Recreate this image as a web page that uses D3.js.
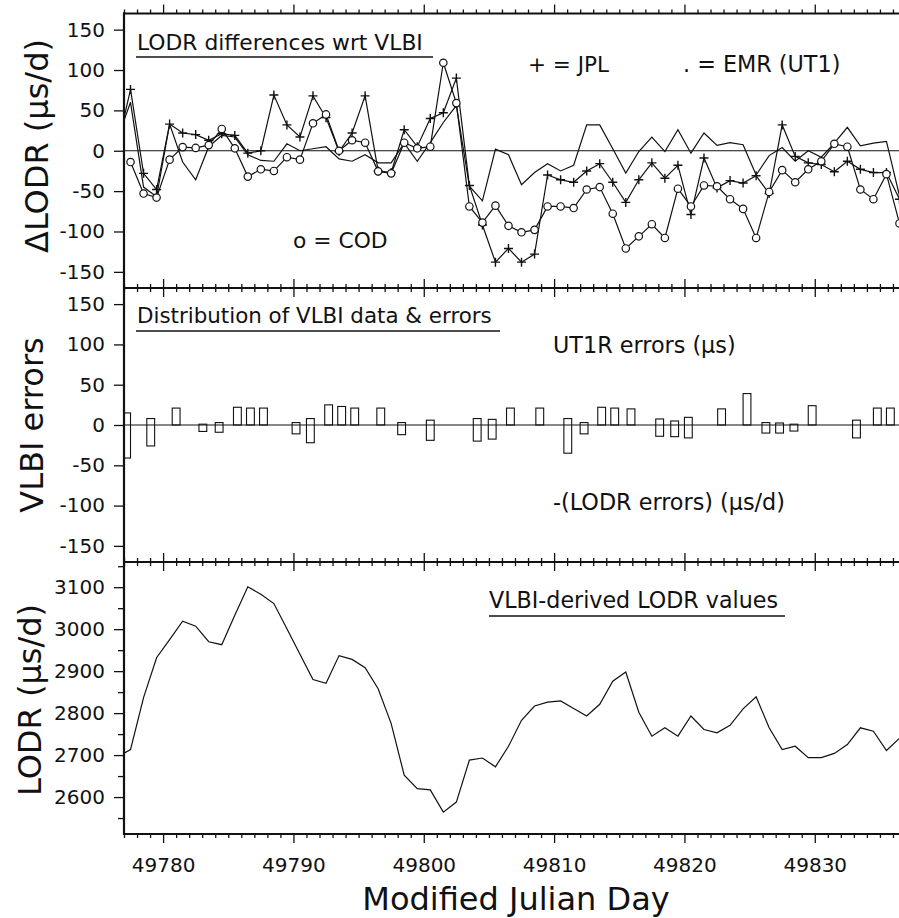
<!DOCTYPE html>
<html><head><meta charset="utf-8">
<script src="https://cdn.jsdelivr.net/npm/d3@7"></script>
<style>
body{margin:0;background:#fff;}
svg{display:block;}
text{font-family:"DejaVu Sans",sans-serif;fill:#111;}
</style></head><body>
<svg id="c" width="899" height="918"></svg>
<script>
// ---------- data ----------
const days = [49776.5,49777.5,49778.5,49779.5,49780.5,49781.5,49782.5,49783.5,49784.5,49785.5,
  49786.5,49787.5,49788.5,49789.5,49790.5,49791.5,49792.5,49793.5,49794.5,49795.5,
  49796.5,49797.5,49798.5,49799.5,49800.5,49801.5,49802.5,49803.5,49804.5,49805.5,
  49806.5,49807.5,49808.5,49809.5,49810.5,49811.5,49812.5,49813.5,49814.5,49815.5,
  49816.5,49817.5,49818.5,49819.5,49820.5,49821.5,49822.5,49823.5,49824.5,49825.5,
  49826.5,49827.5,49828.5,49829.5,49830.5,49831.5,49832.5,49833.5,49834.5,49835.5,49836.5];
// JPL LODR differences wrt VLBI (+ markers)
const jpl = [5,76,-28,-48,33,22,20,13,21,19,
  -3,0,69,32,17,68,41,-1,22,68,
  -25,-27,26,5,40,47,90,-43,-92,-138,
  -121,-138,-128,-30,-36,-39,-25,-16,-39,-64,
  -36,-15,-34,-18,-79,-9,-46,-37,-40,-31,
  -53,32,-7,-15,-17,-26,-13,-23,-27,-27,-60];
// COD differences (o markers)
const cod = [null,-14,-53,-58,-11,4.5,3.5,7,27,3,
  -32,-23,-25,-8,-11,34,45,0,13,10,
  -25.5,-28,10,3,5,109,59,-69,-89,-68,
  -93,-101,-98,-69,-69,-71,-48,-45,-78,-121,
  -106,-91,-108,-47,-69,-43,-44,-60,-72,-108,
  -51,-24,-39,-23,-13,8.6,5,-48,-60,-29,-90];
// EMR (UT1) differences (plain line)
const emr = [15,60,-45,-57,33,-14,-36,5,19,17,
  -5,-12,-13,8.6,0,2.5,5,-10,-13,-5,
  -15,-15,9.5,-13,10,35,56,-44,-62,2,
  -5,-42,-27,-16,-25,-18,32,32,2.5,-27.5,
  -1,17,-1,26,-3,22,6.6,10,7.4,-30,
  -6,4,-13,0,-8,9.5,29,6,9.5,11.5,-56];
// VLBI-derived LODR values (µs/d)
const lodr = [2696,2713,2837,2932,2975,3019,3007,2970,2963,3033,
  3101,3083,3061,3001,2940,2880,2871,2937,2928,2908,
  2858,2775,2652,2620,2617,2564,2588,2688,2693,2672,
  2721,2783,2817,2826,2829,2811,2793,2821,2876,2898,
  2802,2745,2765,2745,2793,2761,2753,2771,2810,2839,
  2765,2713,2721,2694,2694,2704,2725,2765,2757,2711,2740];
// VLBI sessions: UT1R errors (µs, up) and LODR errors (µs/d, drawn negative)
const barDays = [49777.2,49779.05,49781.0,49783.05,49784.3,49785.7,49786.7,49787.7,49790.2,49791.3,
  49792.7,49793.7,49794.7,49796.7,49798.3,49800.5,49804.1,49805.25,49806.65,49808.9,
  49811.05,49812.3,49813.65,49814.65,49815.9,49818.1,49819.25,49820.3,49822.85,49824.8,
  49826.25,49827.3,49828.4,49829.8,49833.2,49834.8,49835.8];
const ut1rErr = [15,8,21,1,3,22,21,21,3,8,
  25,23,21,21,3,6,8,7,21,21,
  8,3,22,21,20,7.5,5,9.5,20,39,
  3,2.5,1,24,6,21,21];
const lodrErr = [41,26,0,8,9,0,0,0,11,22,
  0,0,0,0,12,19,20,17.5,0,0,
  35,11,0,0,0,14,14.5,16,0,0,
  10,10,7.5,0,16,0,0];
// ticks
const xMajorTicks = [49780,49790,49800,49810,49820,49830];
const xMinorTicks = [49777,49778,49779,49781,49782,49783,49784,49785,49786,49787,49788,49789,
  49791,49792,49793,49794,49795,49796,49797,49798,49799,49801,49802,49803,49804,49805,49806,
  49807,49808,49809,49811,49812,49813,49814,49815,49816,49817,49818,49819,49821,49822,49823,
  49824,49825,49826,49827,49828,49829,49831,49832,49833,49834,49835,49836];
const diffTicks = [-150,-100,-50,0,50,100,150];
const lodrTicks = [2600,2700,2800,2900,3000,3100];
const lodrMinorTicks = [2550,2650,2750,2850,2950,3050,3150];

// ---------- layout ----------
const svg = d3.select("#c");
const L = 124, R = 906;
const P1 = [13.5, 288], P2 = [288, 562], P3 = [562, 834];
const x = d3.scaleLinear().domain([49777, 49837]).range([L, R]);
const y1 = d3.scaleLinear().domain([-170, 170]).range([P1[1], P1[0]]);
const y2 = d3.scaleLinear().domain([-170, 170]).range([P2[1], P2[0]]);
const y3 = d3.scaleLinear().domain([2512, 3160]).range([P3[1], P3[0]]);
const ink = "#111";
const fmt = d => String(d);   // plain hyphen-minus like the original

const defs = svg.append("defs");
[P1, P2, P3].forEach((p, i) => {
  defs.append("clipPath").attr("id", "clip" + i).append("rect")
    .attr("x", L).attr("y", p[0]).attr("width", R - L).attr("height", p[1] - p[0]);
});

// ---------- x ticks on every panel border ----------
function xTicks(yPos, dir, withLabels) {
  const ax = (dir < 0 ? d3.axisTop(x) : d3.axisBottom(x));
  const gMaj = svg.append("g").attr("transform", `translate(0,${yPos})`)
    .call(ax.tickValues(xMajorTicks).tickSize(9).tickPadding(15)
      .tickFormat(withLabels ? fmt : () => ""));
  const ax2 = (dir < 0 ? d3.axisTop(x) : d3.axisBottom(x));
  const gMin = svg.append("g").attr("transform", `translate(0,${yPos})`)
    .call(ax2.tickValues(xMinorTicks).tickSize(4).tickFormat(() => ""));
  [gMaj, gMin].forEach(g => {
    g.select(".domain").remove();
    g.selectAll("line").attr("stroke", ink).attr("stroke-width", 1.3);
  });
  gMaj.selectAll("text").attr("font-size", 20).attr("fill", ink)
    .attr("font-family", "DejaVu Sans");
}
xTicks(P1[0], -1, false);
xTicks(P1[1], 1, false);
xTicks(P2[0], -1, false);
xTicks(P2[1], 1, false);
xTicks(P3[0], -1, false);
xTicks(P3[1], 1, true);

// ---------- y axes ----------
function yAxis(scale, ticks, minor) {
  const g = svg.append("g").attr("transform", `translate(${L},0)`)
    .call(d3.axisLeft(scale).tickValues(ticks).tickSize(10).tickPadding(9).tickFormat(fmt));
  g.select(".domain").remove();
  g.selectAll("line").attr("stroke", ink).attr("stroke-width", 1.3);
  g.selectAll("text").attr("font-size", 20).attr("fill", ink).attr("font-family", "DejaVu Sans");
  if (minor) {
    const gm = svg.append("g").attr("transform", `translate(${L},0)`)
      .call(d3.axisLeft(scale).tickValues(minor).tickSize(6).tickFormat(() => ""));
    gm.select(".domain").remove();
    gm.selectAll("line").attr("stroke", ink).attr("stroke-width", 1.3);
  }
}
yAxis(y1, diffTicks);
yAxis(y2, diffTicks);
yAxis(y3, lodrTicks, lodrMinorTicks);

// ---------- frame ----------
const frame = svg.append("g").attr("stroke", ink).attr("stroke-width", 2.2);
[P1[0], P1[1], P2[1], P3[1]].forEach(yy => {
  frame.append("line").attr("x1", L - 1).attr("x2", R).attr("y1", yy).attr("y2", yy);
});
frame.append("line").attr("x1", L).attr("x2", L).attr("y1", P1[0] - 1).attr("y2", P3[1] + 1);

// ---------- panel 1: LODR differences ----------
const p1 = svg.append("g").attr("clip-path", "url(#clip0)");
p1.append("line").attr("x1", L).attr("x2", R).attr("y1", y1(0)).attr("y2", y1(0))
  .attr("stroke", ink).attr("stroke-width", 1.2);
const mk = arr => days.map((d, i) => ({d, v: arr[i]}));
const line1 = d3.line().defined(p => p.v != null).x(p => x(p.d)).y(p => y1(p.v));
[emr, jpl, cod].forEach(arr => {
  p1.append("path").datum(mk(arr)).attr("d", line1)
    .attr("fill", "none").attr("stroke", ink).attr("stroke-width", 1.2);
});
p1.selectAll(".plus").data(mk(jpl)).join("path").attr("class", "plus")
  .attr("transform", p => `translate(${x(p.d)},${y1(p.v)})`)
  .attr("d", "M-4.5,0H4.5M0,-4.5V4.5").attr("stroke", ink).attr("stroke-width", 1.4);
p1.selectAll(".circ").data(mk(cod).filter(p => p.v != null)).join("circle").attr("class", "circ")
  .attr("cx", p => x(p.d)).attr("cy", p => y1(p.v)).attr("r", 3.7)
  .attr("fill", "#fff").attr("stroke", ink).attr("stroke-width", 1.2);

// ---------- panel 2: VLBI errors ----------
const p2 = svg.append("g").attr("clip-path", "url(#clip1)");
p2.append("line").attr("x1", L).attr("x2", R).attr("y1", y2(0)).attr("y2", y2(0))
  .attr("stroke", ink).attr("stroke-width", 1.2);
const barHalfDays = 0.3;
p2.selectAll("rect").data(barDays.map((d, i) => ({d, up: ut1rErr[i], dn: -lodrErr[i]})))
  .join("rect")
  .attr("x", b => x(b.d - barHalfDays)).attr("width", b => x(b.d + barHalfDays) - x(b.d - barHalfDays))
  .attr("y", b => y2(b.up)).attr("height", b => Math.max(0.5, y2(b.dn) - y2(b.up)))
  .attr("fill", "none").attr("stroke", ink).attr("stroke-width", 1.1);

// ---------- panel 3: LODR values ----------
const p3 = svg.append("g").attr("clip-path", "url(#clip2)");
p3.append("path").datum(mk(lodr))
  .attr("d", d3.line().x(p => x(p.d)).y(p => y3(p.v)))
  .attr("fill", "none").attr("stroke", ink).attr("stroke-width", 1.2);

// ---------- annotations ----------
function label(txt, xx, yy, size, underline) {
  const t = svg.append("text").attr("x", xx).attr("y", yy).attr("font-size", size).text(txt);
  if (underline) {
    svg.append("line").attr("x1", underline[0]).attr("x2", underline[1])
      .attr("y1", underline[2]).attr("y2", underline[2]).attr("stroke", ink).attr("stroke-width", 1.4);
  }
  return t;
}
label("LODR differences wrt VLBI", 137, 50, 21.8, [136, 433, 57]);
label("+ = JPL", 528, 72, 21.5);
label(". = EMR (UT1)", 683, 72, 22.3);
label("o = COD", 293, 248, 21.8);
label("Distribution of VLBI data & errors", 137, 323, 21.4, [136, 500, 331]);
label("UT1R errors (µs)", 553, 353, 22.3);
label("-(LODR errors) (µs/d)", 553, 510, 22.3);
label("VLBI-derived LODR values", 489, 608, 22.2, [489, 785, 616]);

// axis titles
function vtitle(txt, xx, yy) {
  svg.append("text").attr("transform", `translate(${xx},${yy}) rotate(-90)`)
    .attr("text-anchor", "middle").attr("font-size", 32).text(txt);
}
vtitle("ΔLODR (µs/d)", 48, 146);
vtitle("VLBI errors", 43, 425);
vtitle("LODR (µs/d)", 41, 700);
svg.append("text").attr("x", 516).attr("y", 910).attr("text-anchor", "middle")
  .attr("font-size", 32).text("Modified Julian Day");
</script>
</body></html>
